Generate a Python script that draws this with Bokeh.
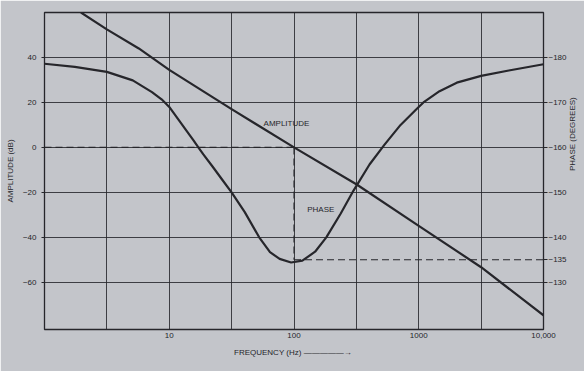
from bokeh.plotting import figure
from bokeh.models import Range1d, LinearAxis, FixedTicker, Label
from bokeh.embed import file_html
from bokeh.resources import INLINE

# ---- data ----
freq_ticks = [1, 3.162, 10, 31.62, 100, 316.2, 1000, 3162, 10000]
freq_tick_labels = ["", "", "10", "", "100", "", "1000", "", "10,000"]
amp_ticks = [-60, -40, -20, 0, 20, 40]
phase_ticks = [-180, -170, -160, -150, -140, -135, -130]

amp_freq = [1.96, 3.16, 5.7, 10, 31.6, 100, 316, 1000, 3162, 10000]
amp_db = [60, 52.5, 44, 34.5, 17, 0, -16.4, -34.9, -53.3, -74.7]

phase_freq = [1, 1.75, 3.16, 5.1, 7.27, 8.68, 10, 11.7, 13.5, 15.7, 17.1, 18.7,
              22.3, 26.6, 31.6, 40.3, 52.6, 64.2, 76.7, 94.8, 116.7, 147.6, 181.5,
              237, 300, 403, 528, 715, 966, 1090, 1468, 2018, 3162, 5270, 10000]
phase_deg = [-178.6, -177.9, -176.8, -174.9, -172.3, -170.7, -169.0, -166.4,
             -164.0, -161.5, -160.0, -158.5, -155.7, -152.8, -150.0, -145.6,
             -140.0, -136.7, -135.2, -134.4, -134.8, -136.8, -140.0, -145.3,
             -150.4, -156.2, -160.5, -165.0, -168.6, -170.0, -172.5, -174.4,
             -175.9, -177.1, -178.5]

crossover_freq = 100       # amplitude crosses 0 dB
phase_at_crossover = -135  # phase read at the crossover
freq_min, freq_max = 1, 10000
db_min, db_max = -81, 60
phase_bottom, phase_top = -119.5, -190

INK = "#26262b"
BG = "#c3c5ca"
FONT = "Liberation Sans"

p = figure(width=584, height=371, x_axis_type="log",
           x_range=Range1d(freq_min, freq_max), y_range=Range1d(db_min, db_max),
           output_backend="svg", toolbar_location=None,
           min_border_left=44, min_border_right=36, min_border_top=12,
           min_border_bottom=42)
p.extra_y_ranges = {"phase": Range1d(start=phase_bottom, end=phase_top)}

p.background_fill_color = BG
p.border_fill_color = BG
p.outline_line_color = INK
p.outline_line_width = 1.3

# x axis
p.xaxis.ticker = FixedTicker(ticks=freq_ticks, minor_ticks=[])
p.xaxis.major_label_overrides = {t: l for t, l in zip(freq_ticks, freq_tick_labels)}
p.xaxis.major_tick_out = 0
p.xaxis.major_tick_in = 0
p.xaxis.minor_tick_line_color = None
p.xaxis.axis_line_color = None
p.xaxis.major_label_standoff = 3
p.xaxis.major_label_text_font = FONT
p.xaxis.major_label_text_font_size = "8px"
p.xaxis.major_label_text_color = INK
p.xaxis.axis_label = "FREQUENCY (Hz)  \u2014\u2014\u2014\u2014\u2014\u2192"
p.xaxis.axis_label_standoff = 7
p.xaxis.axis_label_text_font = FONT
p.xaxis.axis_label_text_font_size = "8px"
p.xaxis.axis_label_text_font_style = "normal"
p.xaxis.axis_label_text_color = INK

# left axis
p.yaxis.ticker = FixedTicker(ticks=amp_ticks, minor_ticks=[])
p.yaxis.major_tick_out = 3
p.yaxis.major_tick_in = 0
p.yaxis.major_tick_line_color = INK
p.yaxis.minor_tick_line_color = None
p.yaxis.axis_line_color = None
p.yaxis.major_label_standoff = 5
p.yaxis.major_label_text_font = FONT
p.yaxis.major_label_text_font_size = "8px"
p.yaxis.major_label_text_color = INK
p.yaxis.axis_label = "AMPLITUDE (dB)"
p.yaxis.axis_label_standoff = 5
p.yaxis.axis_label_text_font = FONT
p.yaxis.axis_label_text_font_size = "8px"
p.yaxis.axis_label_text_font_style = "normal"
p.yaxis.axis_label_text_color = INK

# right (phase) axis
ra = LinearAxis(y_range_name="phase", ticker=FixedTicker(ticks=phase_ticks, minor_ticks=[]))
ra.major_tick_out = 4
ra.major_tick_in = 0
ra.major_tick_line_color = INK
ra.minor_tick_line_color = None
ra.axis_line_color = None
ra.major_label_standoff = 1
ra.major_label_text_font = FONT
ra.major_label_text_font_size = "8px"
ra.major_label_text_color = INK
ra.axis_label = "PHASE (DEGREES)"
ra.axis_label_orientation = 1.5708
ra.axis_label_standoff = 3
ra.axis_label_text_font = FONT
ra.axis_label_text_font_size = "8px"
ra.axis_label_text_font_style = "normal"
ra.axis_label_text_color = INK
p.add_layout(ra, "right")

# grid
p.xgrid.grid_line_color = INK
p.xgrid.grid_line_alpha = 0.85
p.ygrid.grid_line_color = INK
p.ygrid.grid_line_alpha = 0.85

# dashed reference lines
p.line([freq_min, crossover_freq], [0, 0], line_color=INK, line_width=1.1, line_dash="7 4")
p.line([crossover_freq, freq_max], [phase_at_crossover, phase_at_crossover],
       y_range_name="phase", line_color=INK, line_width=1.1, line_dash="7 4")
db_at_phase = db_min + (phase_at_crossover - phase_bottom) / (phase_top - phase_bottom) * (db_max - db_min)
p.line([crossover_freq, crossover_freq], [0, db_at_phase], line_color=INK,
       line_width=1.1, line_dash="7 4")

# curves
p.line(amp_freq, amp_db, line_color=INK, line_width=2.2, line_join="round")
p.line(phase_freq, phase_deg, y_range_name="phase", line_color=INK,
       line_width=2.2, line_join="round")

# in-plot labels
for x, y, t in [(87, 10.7, "AMPLITUDE"), (164, -27.6, "PHASE")]:
    p.add_layout(Label(x=x, y=y, text=t, text_font=FONT, text_font_size="8px",
                       text_color=INK, text_align="center", text_baseline="middle"))

open("out.html", "w").write(file_html(p, INLINE))
